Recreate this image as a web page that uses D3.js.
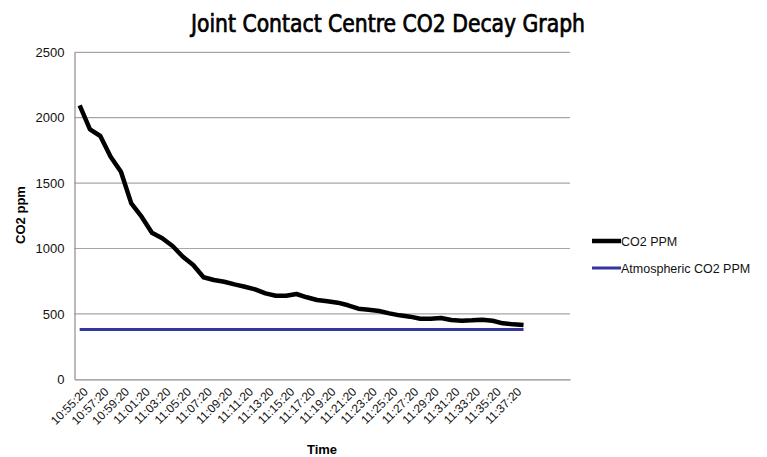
<!DOCTYPE html>
<html><head><meta charset="utf-8">
<script src="https://cdn.jsdelivr.net/npm/d3@7"></script>
<style>body{margin:0;background:#fff}svg{display:block}</style>
</head><body><svg id="c" width="767" height="457"></svg>
<script>
const times = ["10:55:20","10:56:20","10:57:20","10:58:20","10:59:20","11:00:20","11:01:20","11:02:20","11:03:20","11:04:20","11:05:20","11:06:20","11:07:20","11:08:20","11:09:20","11:10:20","11:11:20","11:12:20","11:13:20","11:14:20","11:15:20","11:16:20","11:17:20","11:18:20","11:19:20","11:20:20","11:21:20","11:22:20","11:23:20","11:24:20","11:25:20","11:26:20","11:27:20","11:28:20","11:29:20","11:30:20","11:31:20","11:32:20","11:33:20","11:34:20","11:35:20","11:36:20","11:37:20","11:38:20"];
const co2 = [2095,1911,1860,1702,1587,1345,1243,1121,1078,1019,937,874,780,759,746,726,708,688,657,639,639,652,627,606,596,586,566,540,532,522,504,489,479,463,463,469,453,448,451,456,448,428,420,415];
const atmos = [380,380,380,380,380,380,380,380,380,380,380,380,380,380,380,380,380,380,380,380,380,380,380,380,380,380,380,380,380,380,380,380,380,380,380,380,380,380,380,380,380,380,380,380];
const yTicks = [0,500,1000,1500,2000,2500];
const title = "Joint Contact Centre CO2 Decay Graph";
const seriesNames = ["CO2 PPM","Atmospheric CO2 PPM"];
const colors = ["#000000","#3535a0"];

const svg = d3.select("#c");
const L = 74.5, R = 570, T = 52.3, B = 379.3;
const slots = 48;
const x = d3.scaleBand().domain(d3.range(slots)).range([L, R]);
const cx = i => x(i) + x.bandwidth()/2;
const y = d3.scaleLinear().domain([0,2500]).range([B, T]);

svg.append("text").attr("x",388).attr("y",32).attr("text-anchor","middle")
  .attr("font-family","'DejaVu Sans Condensed','Liberation Sans Narrow',sans-serif")
  .attr("textLength",394).attr("lengthAdjust","spacingAndGlyphs")
  .attr("stroke","#000").attr("stroke-width",0.7)
  .attr("font-size",24).attr("fill","#000").text(title);

// gridlines
svg.append("g").selectAll("line").data(yTicks.filter(d=>d>0)).join("line")
  .attr("x1",L).attr("x2",R).attr("y1",d=>y(d)).attr("y2",d=>y(d))
  .attr("stroke","#a6a6a6").attr("stroke-width",1.2);

// y axis
const ya = svg.append("g").attr("transform",`translate(${L},0)`)
  .call(d3.axisLeft(y).tickValues(yTicks).tickFormat(d3.format("d")).tickSize(0).tickPadding(10));
ya.select(".domain").attr("stroke","#8c8c8c").attr("stroke-width",1.2);
ya.selectAll("text").attr("font-family","'Liberation Sans',Arial,sans-serif").attr("font-size",13).attr("fill","#111");

// x axis
const xa = svg.append("g").attr("transform",`translate(0,${B})`)
  .call(d3.axisBottom(x).tickValues(d3.range(0,times.length,2)).tickFormat(i=>times[i]).tickSize(0).tickSizeOuter(0));
xa.select(".domain").attr("stroke","#8c8c8c").attr("stroke-width",1.2);
xa.selectAll("text").attr("font-family","'Liberation Sans',Arial,sans-serif").attr("font-size",12).attr("fill","#111")
  .attr("text-anchor","end").attr("dy",0).attr("dx",0)
  .attr("transform","translate(7,11) rotate(-45)");

svg.append("text").attr("x",322).attr("y",454).attr("text-anchor","middle")
  .attr("font-family","'Liberation Sans',Arial,sans-serif").attr("font-weight","bold").attr("font-size",13).text("Time");
svg.append("text").attr("transform","translate(25,215) rotate(-90)").attr("text-anchor","middle")
  .attr("font-family","'Liberation Sans',Arial,sans-serif").attr("font-weight","bold").attr("font-size",13).text("CO2 ppm");

const line = d3.line().x((d,i)=>cx(i)).y(d=>y(d));
svg.append("path").datum(atmos).attr("d",line).attr("fill","none").attr("stroke",colors[1]).attr("stroke-width",3);
svg.append("path").datum(co2).attr("d",line).attr("fill","none").attr("stroke",colors[0]).attr("stroke-width",4.5).attr("stroke-linejoin","round");

// legend
const lg = svg.append("g");
[[241,0,4.5],[268,1,3]].forEach(([ly,k,w])=>{
  lg.append("line").attr("x1",592).attr("x2",621).attr("y1",ly).attr("y2",ly).attr("stroke",colors[k]).attr("stroke-width",w);
  lg.append("text").attr("x",621).attr("y",ly+4.5).attr("font-family","'Liberation Sans',Arial,sans-serif").attr("font-size",12.5).attr("fill","#111").text(seriesNames[k]);
});
</script></body></html>
